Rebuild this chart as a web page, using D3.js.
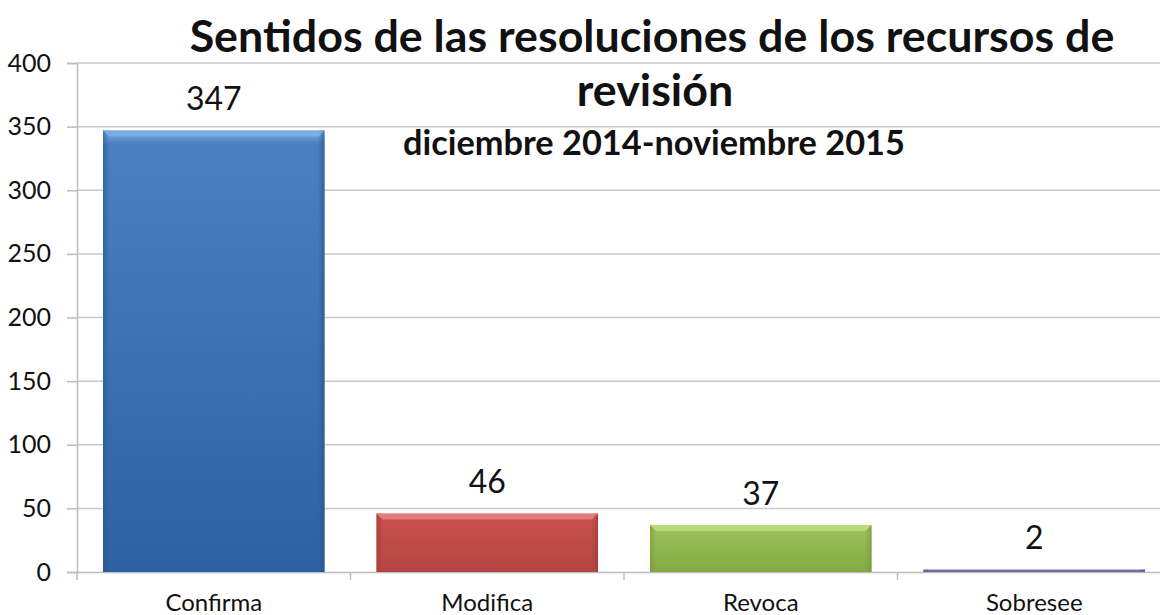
<!DOCTYPE html>
<html>
<head>
<meta charset="utf-8">
<script src="https://cdn.jsdelivr.net/npm/d3@7"></script>
<style>
  body { margin: 0; background: #fff; }
  text { font-family: Lato, "Open Sans", sans-serif; fill: #111; }
</style>
</head>
<body>
<script>
// datos del gráfico
const categories = ["Confirma", "Modifica", "Revoca", "Sobresee"];
const values = [347, 46, 37, 2];
const yTicks = [0, 50, 100, 150, 200, 250, 300, 350, 400];
const titleLines = ["Sentidos de las resoluciones de los recursos de", "revisión"];
const subtitle = "diciembre 2014-noviembre 2015";

const palette = [
  {top: "#7eaee6", mid: "#4a80c0", bot: "#2e61a4", edge: "#2a5590"},
  {top: "#e58481", mid: "#c9514e", bot: "#b54643", edge: "#9c3a38"},
  {top: "#c2dc85", mid: "#9cc35a", bot: "#85aa45", edge: "#76983b"},
  {top: "#a895c4", mid: "#8a74ad", bot: "#745d99", edge: "#6a548c"}
];

const W = 1160, H = 615;
const margin = {top: 63, right: -11, bottom: 43, left: 77};
const width = W - margin.left - margin.right,
      height = H - margin.top - margin.bottom;

const svg = d3.select("body").append("svg")
    .attr("width", W)
    .attr("height", H);

const defs = svg.append("defs");
palette.forEach((p, i) => {
  const g = defs.append("linearGradient")
      .attr("id", "grad" + i)
      .attr("x1", 0).attr("y1", 0).attr("x2", 0).attr("y2", 1);
  g.append("stop").attr("offset", "0%").attr("stop-color", p.top);
  g.append("stop").attr("offset", "3%").attr("stop-color", p.mid);
  g.append("stop").attr("offset", "100%").attr("stop-color", p.bot);
  // sombreado lateral
  const s = defs.append("linearGradient")
      .attr("id", "side" + i)
      .attr("x1", 0).attr("y1", 0).attr("x2", 1).attr("y2", 0);
  s.append("stop").attr("offset", "0%").attr("stop-color", p.edge).attr("stop-opacity", 0.6);
  s.append("stop").attr("offset", "3%").attr("stop-color", p.edge).attr("stop-opacity", 0);
  s.append("stop").attr("offset", "97%").attr("stop-color", p.edge).attr("stop-opacity", 0);
  s.append("stop").attr("offset", "100%").attr("stop-color", p.edge).attr("stop-opacity", 0.7);
});

const g = svg.append("g")
    .attr("transform", "translate(" + margin.left + "," + margin.top + ")");

const x = d3.scaleBand()
    .domain(categories)
    .range([0, width])
    .paddingInner(0.19)
    .paddingOuter(0.095);

const y = d3.scaleLinear()
    .domain([0, 400])
    .range([height, 0]);

// líneas de cuadrícula
g.append("g")
  .selectAll("line")
  .data(yTicks.filter(d => d > 0))
  .join("line")
    .attr("x1", 0).attr("x2", width)
    .attr("y1", d => y(d)).attr("y2", d => y(d))
    .attr("stroke", "#c9c9c9")
    .attr("stroke-width", 1.5);

// eje Y
const yAxis = g.append("g")
    .call(d3.axisLeft(y).tickValues(yTicks).tickSize(10).tickPadding(16));
yAxis.select(".domain").attr("stroke", "#bdbdbd").attr("stroke-width", 1.5);
yAxis.selectAll(".tick line").attr("stroke", "#bdbdbd").attr("stroke-width", 1.5);
yAxis.selectAll(".tick text")
    .style("font-size", "25px")
    .style("font-family", "Lato, sans-serif")
    .attr("fill", "#111");

// eje X
const xAxis = g.append("g")
    .attr("transform", "translate(0," + height + ")")
    .call(d3.axisBottom(x).tickSize(0).tickPadding(22));
xAxis.select(".domain").attr("stroke", "#bdbdbd").attr("stroke-width", 1.5);
xAxis.selectAll(".tick text")
    .style("font-size", "24px")
    .style("font-family", "Lato, sans-serif")
    .attr("fill", "#111");
// marcas entre categorías
const step = x.step();
g.append("g")
  .selectAll("line")
  .data(d3.range(categories.length + 1))
  .join("line")
    .attr("x1", i => x(categories[0]) - x.paddingOuter() * step + i * step)
    .attr("x2", i => x(categories[0]) - x.paddingOuter() * step + i * step)
    .attr("y1", height).attr("y2", height + 8)
    .attr("stroke", "#bdbdbd")
    .attr("stroke-width", 1.5);

// barras
const bars = g.append("g")
  .selectAll("g")
  .data(values)
  .join("g");

bars.append("rect")
    .attr("x", (d, i) => x(categories[i]))
    .attr("y", d => y(d))
    .attr("width", x.bandwidth())
    .attr("height", d => Math.max(y(0) - y(d), 1))
    .attr("fill", (d, i) => "url(#grad" + i + ")");

bars.append("rect")
    .attr("x", (d, i) => x(categories[i]))
    .attr("y", d => y(d))
    .attr("width", x.bandwidth())
    .attr("height", d => Math.max(y(0) - y(d), 1))
    .attr("fill", (d, i) => "url(#side" + i + ")");

// bisel superior
bars.filter(d => y(0) - y(d) > 10).append("path")
    .attr("d", (d, i) => {
      const x0 = x(categories[i]), x1 = x0 + x.bandwidth(), t = y(d);
      return "M" + x0 + "," + t + "L" + x1 + "," + t +
             "L" + (x1 - 6) + "," + (t + 6) + "L" + (x0 + 6) + "," + (t + 6) + "Z";
    })
    .attr("fill", (d, i) => palette[i].top)
    .attr("opacity", 0.85);

// etiquetas de valores
g.append("g")
  .selectAll("text")
  .data(values)
  .join("text")
    .attr("x", (d, i) => x(categories[i]) + x.bandwidth() / 2)
    .attr("y", d => y(d) - 20)
    .attr("text-anchor", "middle")
    .style("font-size", "32px")
    .text(d => d);

// título
function fit(sel, target) {
  const len = sel.node().getComputedTextLength();
  const fs = parseFloat(sel.style("font-size"));
  sel.style("font-size", (fs * target / len) + "px");
}

const t1 = svg.append("text")
    .attr("x", 652).attr("y", 52)
    .attr("text-anchor", "middle")
    .style("font-size", "44px")
    .style("font-weight", "bold")
    .text(titleLines[0]);
fit(t1, 925);

svg.append("text")
    .attr("x", 655).attr("y", 106)
    .attr("text-anchor", "middle")
    .style("font-size", t1.style("font-size"))
    .style("font-weight", "bold")
    .text(titleLines[1]);

const st = svg.append("text")
    .attr("x", 654).attr("y", 155)
    .attr("text-anchor", "middle")
    .style("font-size", "28px")
    .style("font-weight", "bold")
    .text(subtitle);
fit(st, 502);
</script>
</body>
</html>
